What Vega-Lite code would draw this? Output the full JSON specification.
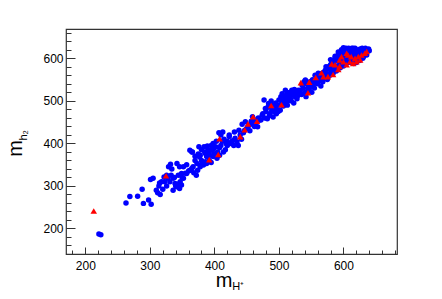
{
  "$schema": "https://vega.github.io/schema/vega-lite/v6.json",
  "width": 331,
  "height": 225,
  "autosize": {"type": "none"},
  "padding": {"left": 66, "top": 29, "right": 45, "bottom": 45},
  "background": "white",
  "config": {
    "view": {"stroke": "#333333", "strokeWidth": 1.2},
    "axis": {"grid": false, "domain": false, "labelFont": "Liberation Sans", "labelFontSize": 12, "labelColor": "#000000", "tickColor": "#333333", "tickWidth": 1, "titleFont": "Liberation Sans", "titleColor": "#000000", "titleFontWeight": "normal", "labelOverlap": false, "labelFlush": false}
  },
  "datasets": {
    "blue": [
      {"x":221,"y":187},{"x":224,"y":185},{"x":263,"y":260},{"x":269,"y":275},{"x":281,"y":276},{"x":288,"y":292},{"x":290,"y":259},{"x":298,"y":267},{"x":302,"y":257},
      {"x":301,"y":315},{"x":305,"y":318},{"x":310,"y":290},{"x":312,"y":284},{"x":316,"y":280},{"x":320,"y":292},{"x":315,"y":307},{"x":318,"y":310},{"x":322,"y":321},{"x":326,"y":325},{"x":329,"y":345},{"x":332,"y":351},{"x":336,"y":290},{"x":342,"y":353},{"x":346,"y":345},{"x":344,"y":325},{"x":349,"y":329},{"x":347,"y":310},{"x":349,"y":302},{"x":352,"y":318},{"x":357,"y":329},{"x":362,"y":337},{"x":365,"y":341},{"x":368,"y":331},{"x":374,"y":337},{"x":378,"y":349},{"x":382,"y":353},{"x":372,"y":325},{"x":336,"y":318},{"x":339,"y":306},{"x":342,"y":298},{"x":331,"y":310},{"x":366,"y":380},{"x":378,"y":372},{"x":386,"y":376},{"x":388,"y":353},
      {"x":314,"y":300},{"x":323,"y":310},{"x":328,"y":318},{"x":333,"y":325},{"x":338,"y":320},{"x":340,"y":300},{"x":350,"y":320},{"x":355,"y":330},{"x":326,"y":300},{"x":352,"y":345},{"x":357,"y":350},{"x":360,"y":335},{"x":334,"y":340},{"x":345,"y":305},{"x":346,"y":294},
      {"x":362,"y":384},{"x":365,"y":380},{"x":376,"y":392},{"x":377,"y":368},{"x":373,"y":353},{"x":367,"y":345},{"x":383,"y":349},{"x":389,"y":394},{"x":388,"y":369},{"x":398,"y":369},{"x":396,"y":384},{"x":402,"y":392},{"x":400,"y":376},{"x":407,"y":425},{"x":413,"y":427},{"x":418,"y":400},{"x":370,"y":360},{"x":375,"y":375},{"x":380,"y":360},{"x":385,"y":380},{"x":390,"y":385},{"x":392,"y":360},{"x":395,"y":395},{"x":398,"y":400},{"x":403,"y":405},{"x":405,"y":380},{"x":408,"y":390},{"x":410,"y":395},{"x":412,"y":405},{"x":415,"y":410},{"x":417,"y":385},{"x":420,"y":405},{"x":380,"y":385},{"x":384,"y":392},{"x":393,"y":372},{"x":399,"y":388},{"x":404,"y":365},{"x":370,"y":370},{"x":378,"y":345},{"x":386,"y":357},{"x":391,"y":378},{"x":395,"y":355},{"x":408,"y":372},{"x":414,"y":380},{"x":420,"y":395},{"x":423,"y":420},{"x":410,"y":420},
      {"x":423,"y":416},{"x":428,"y":406},{"x":435,"y":404},{"x":431,"y":427},{"x":438,"y":431},{"x":443,"y":445},{"x":448,"y":451},{"x":454,"y":443},{"x":447,"y":431},{"x":459,"y":463},{"x":464,"y":455},{"x":467,"y":439},{"x":425,"y":400},{"x":432,"y":412},{"x":440,"y":420},{"x":445,"y":425},{"x":450,"y":435},{"x":455,"y":430},{"x":460,"y":445},{"x":465,"y":450},{"x":470,"y":455},{"x":437,"y":395},{"x":442,"y":410},{"x":452,"y":440},{"x":457,"y":452},{"x":462,"y":440},{"x":468,"y":460},{"x":430,"y":395},
      {"x":474,"y":466},{"x":479,"y":482},{"x":477,"y":502},{"x":484,"y":494},{"x":489,"y":478},{"x":494,"y":486},{"x":500,"y":502},{"x":505,"y":517},{"x":510,"y":525},{"x":515,"y":510},{"x":510,"y":494},{"x":520,"y":525},{"x":525,"y":510},{"x":531,"y":517},{"x":472,"y":455},{"x":475,"y":470},{"x":478,"y":460},{"x":480,"y":475},{"x":483,"y":485},{"x":486,"y":470},{"x":490,"y":490},{"x":492,"y":475},{"x":495,"y":495},{"x":497,"y":480},{"x":500,"y":490},{"x":502,"y":478},{"x":504,"y":500},{"x":507,"y":488},{"x":509,"y":508},{"x":512,"y":515},{"x":514,"y":500},{"x":516,"y":520},{"x":518,"y":505},{"x":521,"y":515},{"x":523,"y":495},{"x":526,"y":520},{"x":528,"y":505},{"x":530,"y":525},{"x":485,"y":465},{"x":488,"y":500},{"x":496,"y":470},{"x":503,"y":510},{"x":508,"y":498},{"x":513,"y":490},{"x":519,"y":500},{"x":524,"y":527},{"x":529,"y":512},{"x":482,"y":458},{"x":491,"y":462},{"x":499,"y":475},
      {"x":536,"y":537},{"x":541,"y":549},{"x":546,"y":533},{"x":554,"y":541},{"x":559,"y":553},{"x":567,"y":565},{"x":533,"y":525},{"x":535,"y":515},{"x":538,"y":530},{"x":540,"y":520},{"x":543,"y":540},{"x":545,"y":525},{"x":548,"y":545},{"x":550,"y":535},{"x":552,"y":550},{"x":555,"y":530},{"x":557,"y":545},{"x":560,"y":540},{"x":562,"y":558},{"x":564,"y":548},{"x":566,"y":555},{"x":568,"y":545},{"x":570,"y":568},{"x":539,"y":545},{"x":542,"y":510},{"x":547,"y":528},{"x":551,"y":520},{"x":556,"y":560},{"x":561,"y":565},{"x":565,"y":535},{"x":569,"y":558},{"x":553,"y":538},
      {"x":572,"y":572},{"x":577,"y":580},{"x":582,"y":592},{"x":587,"y":600},{"x":592,"y":608},{"x":597,"y":612},{"x":603,"y":620},{"x":608,"y":624},{"x":571,"y":555},{"x":574,"y":565},{"x":576,"y":560},{"x":578,"y":575},{"x":580,"y":585},{"x":581,"y":570},{"x":583,"y":578},{"x":585,"y":590},{"x":586,"y":575},{"x":588,"y":582},{"x":590,"y":595},{"x":591,"y":580},{"x":593,"y":600},{"x":594,"y":585},{"x":596,"y":595},{"x":598,"y":605},{"x":599,"y":590},{"x":601,"y":600},{"x":602,"y":610},{"x":604,"y":595},{"x":605,"y":615},{"x":606,"y":602},{"x":607,"y":590},{"x":609,"y":612},{"x":610,"y":600},{"x":575,"y":550},{"x":579,"y":560},{"x":584,"y":565},{"x":589,"y":570},{"x":595,"y":578},{"x":600,"y":582},{"x":573,"y":580},{"x":580,"y":597},{"x":587,"y":605},{"x":592,"y":615},{"x":597,"y":620},{"x":600,"y":625},{"x":604,"y":624},
      {"x":613,"y":624},{"x":618,"y":624},{"x":623,"y":620},{"x":629,"y":624},{"x":634,"y":624},{"x":638,"y":620},{"x":611,"y":615},{"x":612,"y":605},{"x":614,"y":595},{"x":615,"y":618},{"x":616,"y":610},{"x":617,"y":600},{"x":619,"y":612},{"x":620,"y":605},{"x":621,"y":596},{"x":622,"y":615},{"x":624,"y":608},{"x":625,"y":600},{"x":626,"y":612},{"x":627,"y":604},{"x":628,"y":615},{"x":630,"y":610},{"x":631,"y":604},{"x":632,"y":618},{"x":633,"y":612},{"x":635,"y":615},{"x":636,"y":608},{"x":637,"y":618},{"x":639,"y":622},{"x":640,"y":618},{"x":620,"y":590},{"x":625,"y":595},{"x":630,"y":600},{"x":612,"y":590},{"x":616,"y":588},{"x":615,"y":624},{"x":626,"y":622}
    ],
    "red": [
      {"x":213,"y":241},{"x":325,"y":324},{"x":392,"y":362},{"x":406,"y":374},{"x":408,"y":411},{"x":440,"y":416},{"x":447,"y":432},{"x":452,"y":446},{"x":460,"y":463},{"x":466,"y":452},{"x":488,"y":489},{"x":504,"y":491},{"x":534,"y":543},{"x":545,"y":519},{"x":547,"y":544},{"x":557,"y":555},{"x":566,"y":566},{"x":569,"y":557},{"x":576,"y":557},{"x":584,"y":562},{"x":582,"y":587},{"x":587,"y":585},{"x":592,"y":574},{"x":594,"y":581},{"x":594,"y":596},{"x":600,"y":592},{"x":605,"y":612},{"x":607,"y":608},{"x":605,"y":585},{"x":610,"y":592},{"x":615,"y":588},{"x":618,"y":600},{"x":623,"y":604},{"x":628,"y":608},{"x":633,"y":612},{"x":636,"y":616},{"x":626,"y":596},{"x":620,"y":592},{"x":597,"y":604},{"x":612,"y":604}
    ]
  },
  "layer": [
    {
      "data": {"name": "blue"},
      "mark": {"type": "point", "shape": "circle", "filled": true, "color": "#0000ff", "opacity": 1, "size": 30},
      "encoding": {
        "x": {"field": "x", "type": "quantitative", "scale": {"domain": [170, 683], "nice": false, "zero": false},
          "axis": {"orient": "bottom", "values": [180,200,220,240,260,280,300,320,340,360,380,400,420,440,460,480,500,520,540,560,580,600,620,640,660,680], "format": "d",
            "labelExpr": "datum.value % 100 === 0 ? datum.label : ''",
            "tickSize": {"condition": {"test": "datum.value % 100 === 0", "value": -7}, "value": -4},
            "labelPadding": 13,
            "title": "m", "titleFontSize": 20, "titleX": 157.7, "titleY": 32, "titleAlign": "center", "titleBaseline": "alphabetic"}},
        "y": {"field": "y", "type": "quantitative", "scale": {"domain": [140, 669], "nice": false, "zero": false},
          "axis": {"orient": "left", "values": [140,160,180,200,220,240,260,280,300,320,340,360,380,400,420,440,460,480,500,520,540,560,580,600,620,640,660], "format": "d",
            "labelExpr": "datum.value % 100 === 0 ? datum.label : ''",
            "tickSize": {"condition": {"test": "datum.value % 100 === 0", "value": -9}, "value": -5},
            "labelPadding": 12,
            "title": "m", "titleFontSize": 20, "titleX": -45, "titleY": 119, "titleAngle": -90, "titleAlign": "center", "titleBaseline": "alphabetic"}}
      }
    },
    {
      "data": {"name": "red"},
      "mark": {"type": "point", "shape": "triangle-up", "filled": true, "color": "#ff0000", "opacity": 1, "size": 42},
      "encoding": {
        "x": {"field": "x", "type": "quantitative", "scale": {"domain": [170, 683], "nice": false, "zero": false},
          "axis": {"orient": "bottom", "labels": false, "ticks": false, "domain": false, "title": "H⁺", "titleFontSize": 11, "titleX": 165.7, "titleY": 35, "titleAlign": "left", "titleBaseline": "alphabetic"}},
        "y": {"field": "y", "type": "quantitative", "scale": {"domain": [140, 669], "nice": false, "zero": false},
          "axis": {"orient": "left", "labels": false, "ticks": false, "domain": false, "title": "h₂", "titleFontSize": 11, "titleX": -39.3, "titleY": 111, "titleAngle": -90, "titleAlign": "left", "titleBaseline": "alphabetic"}}
      }
    }
  ],
  "resolve": {"axis": {"x": "independent", "y": "independent"}}
}
